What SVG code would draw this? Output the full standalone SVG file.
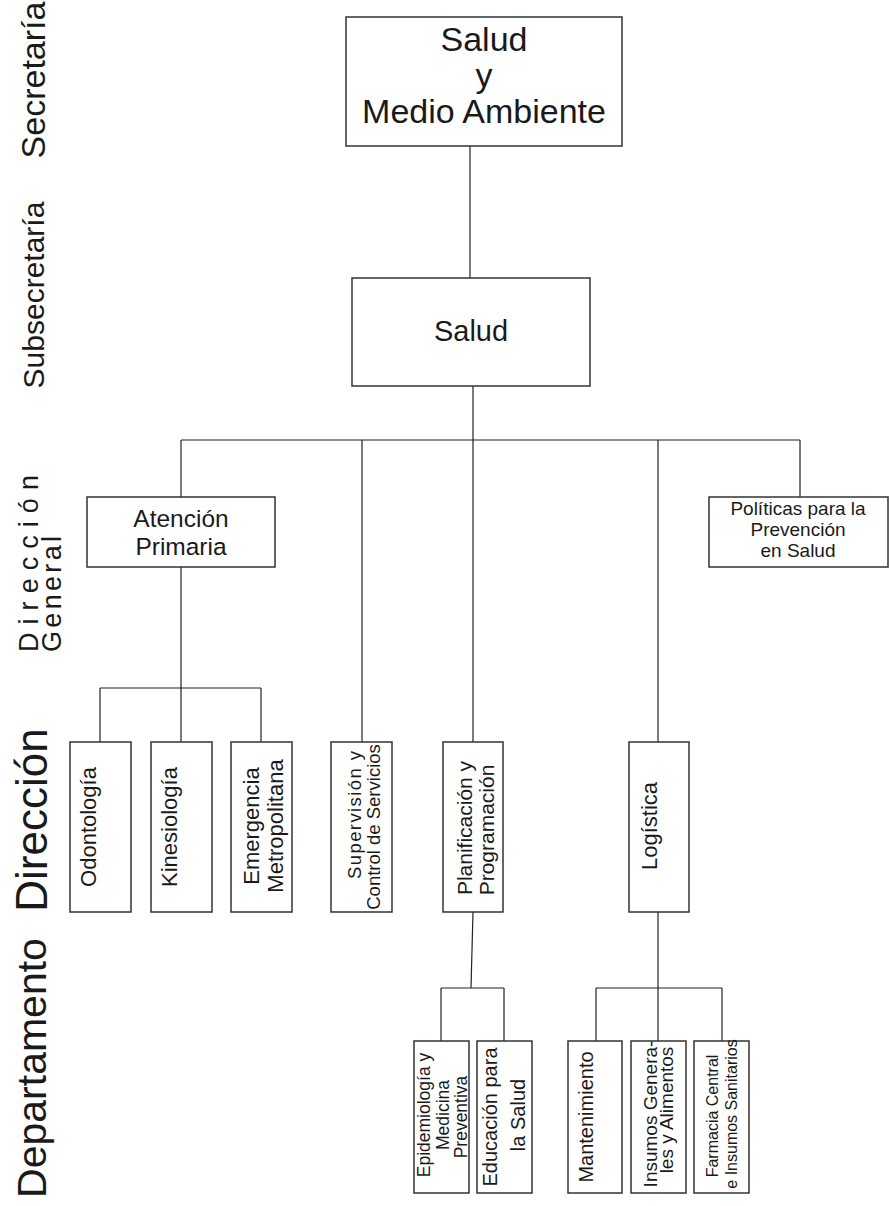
<svg xmlns="http://www.w3.org/2000/svg" width="890" height="1206" viewBox="0 0 890 1206">
<style>
.box{fill:#fff;stroke:#333;stroke-width:1.5}
.ln{fill:none;stroke:#222;stroke-width:1.2}
text{font-family:"Liberation Sans",Arial,sans-serif;fill:#1a1a1a}
.m{text-anchor:middle}
.s{text-anchor:start}
</style>
<rect width="890" height="1206" fill="#fff"/>
<g id="labels">
<text class="m" font-size="34" transform="translate(45,80) rotate(-90)">Secretaría</text>
<text class="m" font-size="30" transform="translate(44,295) rotate(-90)">Subsecretaría</text>
<text class="s" font-size="27" textLength="177" lengthAdjust="spacing" transform="translate(38,652) rotate(-90)">Dirección</text>
<text class="s" font-size="27" textLength="116" lengthAdjust="spacing" transform="translate(61,652) rotate(-90)">General</text>
<text class="m" font-size="44" transform="translate(47,820) rotate(-90)">Dirección</text>
<text class="m" font-size="41" transform="translate(46,1068) rotate(-90)">Departamento</text>
</g>
<g id="connectors">
<line class="ln" x1="470" y1="146" x2="470" y2="278"/>
<line class="ln" x1="473" y1="386" x2="473" y2="440"/>
<line class="ln" x1="181" y1="440" x2="800" y2="440"/>
<line class="ln" x1="181" y1="440" x2="181" y2="497"/>
<line class="ln" x1="362" y1="440" x2="362" y2="742"/>
<line class="ln" x1="473" y1="440" x2="473" y2="742"/>
<line class="ln" x1="658" y1="440" x2="658" y2="742"/>
<line class="ln" x1="800" y1="440" x2="800" y2="497"/>
<line class="ln" x1="181" y1="567" x2="181" y2="688"/>
<line class="ln" x1="100" y1="688" x2="261" y2="688"/>
<line class="ln" x1="100" y1="688" x2="100" y2="742"/>
<line class="ln" x1="181" y1="688" x2="181" y2="742"/>
<line class="ln" x1="261" y1="688" x2="261" y2="742"/>
<line class="ln" x1="473" y1="912" x2="471" y2="988"/>
<line class="ln" x1="441" y1="988" x2="504" y2="988"/>
<line class="ln" x1="441" y1="988" x2="441" y2="1041"/>
<line class="ln" x1="504" y1="988" x2="504" y2="1041"/>
<line class="ln" x1="658" y1="912" x2="658" y2="988"/>
<line class="ln" x1="596" y1="988" x2="722" y2="988"/>
<line class="ln" x1="596" y1="988" x2="596" y2="1041"/>
<line class="ln" x1="658" y1="988" x2="658" y2="1041"/>
<line class="ln" x1="722" y1="988" x2="722" y2="1041"/>
</g>
<g id="n-secretaria">
<rect class="box" x="346" y="17" width="276" height="129"/>
<text class="m" font-size="34" x="484" y="51">Salud</text>
<text class="m" font-size="34" x="484" y="87">y</text>
<text class="m" font-size="34" x="484" y="123">Medio Ambiente</text>
</g>
<g id="n-subsecretaria">
<rect class="box" x="352" y="278" width="238" height="108"/>
<text class="m" font-size="29" x="471" y="341">Salud</text>
</g>
<g id="n-atencion">
<rect class="box" x="87" y="497" width="188" height="70"/>
<text class="m" font-size="24.5" x="181" y="527">Atención</text>
<text class="m" font-size="24.5" x="181" y="555">Primaria</text>
</g>
<g id="n-politicas">
<rect class="box" x="709" y="497" width="179" height="70"/>
<text class="m" font-size="19" x="798" y="515">Políticas para la</text>
<text class="m" font-size="19" x="798" y="536">Prevención</text>
<text class="m" font-size="19" x="798" y="557">en Salud</text>
</g>
<g id="n-odontologia">
<rect class="box" x="70" y="742" width="61" height="170"/>
<text class="m" font-size="22" transform="translate(96,827) rotate(-90)">Odontología</text>
</g>
<g id="n-kinesiologia">
<rect class="box" x="151" y="742" width="61" height="170"/>
<text class="m" font-size="22" transform="translate(177,827) rotate(-90)">Kinesiología</text>
</g>
<g id="n-emergencia">
<rect class="box" x="231" y="742" width="61" height="170"/>
<text class="m" font-size="22" transform="translate(259,826) rotate(-90)">Emergencia</text>
<text class="m" font-size="22" transform="translate(283,826) rotate(-90)">Metropolitana</text>
</g>
<g id="n-supervision">
<rect class="box" x="331" y="742" width="61" height="170"/>
<text class="m" font-size="18.5" textLength="128" lengthAdjust="spacing" transform="translate(361,815) rotate(-90)">Supervisión y</text>
<text class="m" font-size="18.5" transform="translate(380,827) rotate(-90)">Control de Servicios</text>
</g>
<g id="n-planificacion">
<rect class="box" x="443" y="742" width="60" height="170"/>
<text class="m" font-size="21" transform="translate(472,828) rotate(-90)">Planificación y</text>
<text class="m" font-size="21" transform="translate(494,830) rotate(-90)">Programación</text>
</g>
<g id="n-logistica">
<rect class="box" x="629" y="742" width="60" height="170"/>
<text class="m" font-size="22" transform="translate(657,826) rotate(-90)">Logística</text>
</g>
<g id="n-epidemiologia">
<rect class="box" x="414" y="1041" width="55" height="152"/>
<text class="m" font-size="17.5" transform="translate(430,1115) rotate(-90)">Epidemiología y</text>
<text class="m" font-size="17.5" transform="translate(449,1115) rotate(-90)">Medicina</text>
<text class="m" font-size="17.5" transform="translate(467,1117) rotate(-90)">Preventiva</text>
</g>
<g id="n-educacion">
<rect class="box" x="477" y="1041" width="55" height="152"/>
<text class="m" font-size="20" transform="translate(497,1117) rotate(-90)">Educación para</text>
<text class="m" font-size="20" transform="translate(525,1115) rotate(-90)">la Salud</text>
</g>
<g id="n-mantenimiento">
<rect class="box" x="568" y="1041" width="54" height="152"/>
<text class="m" font-size="20" transform="translate(593,1117) rotate(-90)">Mantenimiento</text>
</g>
<g id="n-insumos">
<rect class="box" x="631" y="1041" width="55" height="152"/>
<text class="m" font-size="19" transform="translate(657,1114) rotate(-90)">Insumos Genera-</text>
<text class="m" font-size="19" transform="translate(673,1110) rotate(-90)">les y Alimentos</text>
</g>
<g id="n-farmacia">
<rect class="box" x="694" y="1041" width="55" height="152"/>
<text class="m" font-size="16" transform="translate(718,1116) rotate(-90)">Farmacia Central</text>
<text class="m" font-size="16" transform="translate(737,1114) rotate(-90)">e Insumos Sanitarios</text>
</g>
</svg>
